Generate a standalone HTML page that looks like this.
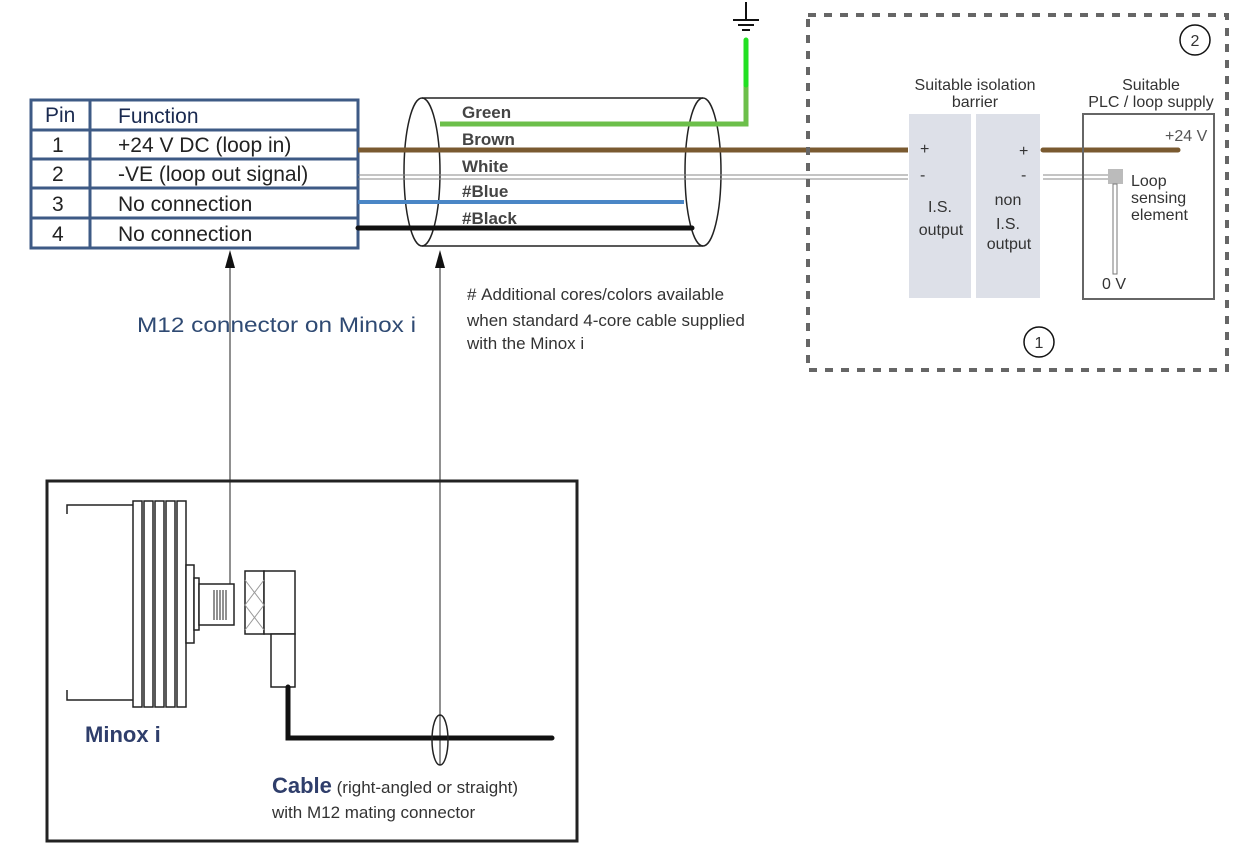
<!DOCTYPE html>
<html><head><style>body{margin:0;background:#fff}svg{display:block}text{font-family:"Liberation Sans",sans-serif}</style></head><body>
<svg width="1245" height="862" viewBox="0 0 1245 862" xmlns="http://www.w3.org/2000/svg">
<!-- table -->
<g fill="none" stroke="#3e5a85" stroke-width="3">
<rect x="31" y="100" width="327" height="148"/>
<line x1="90" y1="100" x2="90" y2="248"/>
<line x1="31" y1="130" x2="358" y2="130"/>
<line x1="31" y1="159" x2="358" y2="159"/>
<line x1="31" y1="188" x2="358" y2="188"/>
<line x1="31" y1="218" x2="358" y2="218"/>
</g>
<g font-size="21" fill="#1a2a50">
<text x="45" y="122">Pin</text><text x="118" y="123">Function</text>
<text x="52" y="152" fill="#222">1</text><text x="118" y="152" fill="#222">+24 V DC (loop in)</text>
<text x="52" y="181" fill="#222">2</text><text x="118" y="181" fill="#222">-VE (loop out signal)</text>
<text x="52" y="211" fill="#222">3</text><text x="118" y="211" fill="#222">No connection</text>
<text x="52" y="241" fill="#222">4</text><text x="118" y="241" fill="#222">No connection</text>
</g>
<!-- cylinder -->
<g fill="none" stroke="#222" stroke-width="1.5">
<ellipse cx="422" cy="172" rx="18" ry="74"/>
<ellipse cx="703" cy="172" rx="18" ry="74"/>
<line x1="422" y1="98" x2="703" y2="98"/><line x1="422" y1="246" x2="703" y2="246"/>
</g>
<!-- wires -->
<polyline points="440,124 746,124 746,85" fill="none" stroke="#6cbf4a" stroke-width="5"/>
<line x1="746" y1="85" x2="746" y2="40" stroke="#22e022" stroke-width="5" stroke-linecap="round"/>
<g stroke="#111" stroke-width="2"><line x1="746" y1="2" x2="746" y2="20"/><line x1="733" y1="20" x2="759" y2="20"/><line x1="738" y1="25" x2="754" y2="25"/><line x1="742" y1="30" x2="750" y2="30"/></g>
<line x1="358" y1="150" x2="908" y2="150" stroke="#7a5a30" stroke-width="5"/>
<line x1="1043" y1="150" x2="1178" y2="150" stroke="#7a5a30" stroke-width="5" stroke-linecap="round"/>
<g stroke="#888" stroke-width="1"><line x1="358" y1="175" x2="908" y2="175"/><line x1="358" y1="179" x2="908" y2="179"/><line x1="1043" y1="175" x2="1108" y2="175"/><line x1="1043" y1="179" x2="1108" y2="179"/></g>
<line x1="358" y1="202" x2="684" y2="202" stroke="#4a86c6" stroke-width="4"/>
<line x1="358" y1="228" x2="692" y2="228" stroke="#111" stroke-width="5" stroke-linecap="round"/>
<g font-size="17" font-weight="bold" fill="#444">
<text x="462" y="118">Green</text><text x="462" y="145">Brown</text><text x="462" y="172">White</text><text x="462" y="197">#Blue</text><text x="462" y="224">#Black</text>
</g>
<!-- dashed box -->
<rect x="808" y="15" width="419" height="355" fill="none" stroke="#666" stroke-width="4" stroke-dasharray="8,8"/>
<rect x="909" y="114" width="62" height="184" fill="#dde0e8"/>
<rect x="976" y="114" width="64" height="184" fill="#dde0e8"/>
<rect x="1083" y="114" width="131" height="185" fill="none" stroke="#666" stroke-width="2"/>
<circle cx="1195" cy="40" r="15" fill="none" stroke="#111" stroke-width="1.5"/>
<circle cx="1039" cy="342" r="15" fill="none" stroke="#111" stroke-width="1.5"/>
<rect x="1108" y="169" width="15" height="15" fill="#bbb"/>
<rect x="1113" y="184" width="4" height="90" fill="#fff" stroke="#777" stroke-width="1"/>
<g font-size="16" fill="#333" text-anchor="middle">
<text x="975" y="90">Suitable isolation</text><text x="975" y="107">barrier</text>
<text x="1151" y="90">Suitable</text><text x="1151" y="107">PLC / loop supply</text>
<text x="940" y="212">I.S.</text><text x="941" y="235">output</text>
<text x="1008" y="205">non</text><text x="1008" y="229">I.S.</text><text x="1009" y="249">output</text>
<text x="1195" y="46">2</text><text x="1039" y="348">1</text>
<text x="1114" y="289">0 V</text>
</g>
<g font-size="16" fill="#333">
<text x="920" y="154">+</text><text x="920" y="180">-</text><text x="1019" y="156">+</text><text x="1021" y="180">-</text>
<text x="1165" y="141" fill="#555">+24 V</text>
<text x="1131" y="186">Loop</text><text x="1131" y="203">sensing</text><text x="1131" y="220">element</text>
</g>
<!-- arrows -->
<g stroke="#222" stroke-width="1"><line x1="230" y1="262" x2="230" y2="584"/><line x1="440" y1="262" x2="440" y2="765"/></g>
<polygon points="230,250 225,268 235,268" fill="#111"/>
<polygon points="440,250 435,268 445,268" fill="#111"/>
<text x="137" y="332" font-size="21" fill="#2f4a73" textLength="279" lengthAdjust="spacingAndGlyphs">M12 connector on Minox i</text>
<g font-size="17" fill="#333"><text x="467" y="300">#&#160;Additional cores/colors available</text><text x="467" y="326">when standard 4-core cable supplied</text><text x="467" y="349">with the Minox i</text></g>
<!-- bottom box -->
<rect x="47" y="481" width="530" height="360" fill="none" stroke="#222" stroke-width="3"/>
<g fill="#fff" stroke="#222" stroke-width="1.5">
<polyline points="67,514 67,505 134,505" fill="none"/><polyline points="67,690 67,700 134,700" fill="none"/>
<rect x="133" y="501" width="9" height="206"/><rect x="144" y="501" width="9" height="206"/><rect x="155" y="501" width="9" height="206"/><rect x="166" y="501" width="9" height="206"/><rect x="177" y="501" width="9" height="206"/>
<rect x="186" y="565" width="8" height="78"/><rect x="194" y="578" width="5" height="52"/><rect x="199" y="584" width="35" height="41"/>
<rect x="245" y="571" width="19" height="63"/><rect x="264" y="571" width="31" height="63"/><rect x="271" y="634" width="24" height="53"/>
</g>
<g stroke="#222" stroke-width="1"><line x1="214" y1="590" x2="214" y2="620"/><line x1="217" y1="590" x2="217" y2="620"/><line x1="220" y1="590" x2="220" y2="620"/><line x1="223" y1="590" x2="223" y2="620"/><line x1="226" y1="590" x2="226" y2="620"/>
<path d="M245,580 L264,605 L245,630 M264,580 L245,605 L264,630" fill="none" stroke="#999"/></g>
<polyline points="288,687 288,738 552,738" fill="none" stroke="#111" stroke-width="5" stroke-linecap="round"/>
<ellipse cx="440" cy="740" rx="8" ry="25" fill="none" stroke="#222" stroke-width="1.5"/>
<text x="85" y="742" font-size="22" font-weight="bold" fill="#2f3e6b">Minox i</text>
<text x="272" y="793" font-size="17" fill="#333"><tspan font-size="22" font-weight="bold" fill="#2f3e6b">Cable</tspan> (right-angled or straight)</text>
<text x="272" y="818" font-size="17" fill="#333">with M12 mating connector</text>
</svg>
</body></html>
